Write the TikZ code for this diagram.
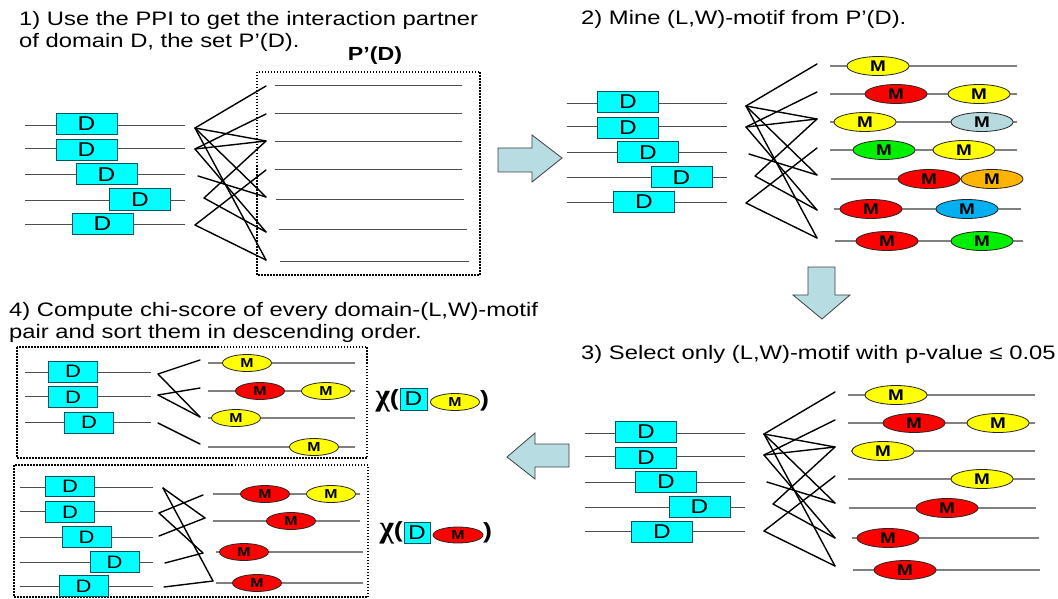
\documentclass[tikz,border=0pt]{standalone}
\usepackage{fontspec}
\setmainfont{Liberation Sans}[FakeStretch=1.22]
\newfontfamily\chifont{Liberation Serif}
\usetikzlibrary{shapes.geometric}
\definecolor{dedge}{RGB}{0,85,95}
\definecolor{dfill}{RGB}{0,255,255}
\definecolor{myellow}{RGB}{255,255,0}
\definecolor{mred}{RGB}{255,0,0}
\definecolor{mgreen}{RGB}{0,240,0}
\definecolor{morange}{RGB}{255,180,0}
\definecolor{mblue}{RGB}{0,176,240}
\definecolor{mpale}{RGB}{182,218,222}
\definecolor{arrowfill}{RGB}{183,221,226}
\tikzset{
  dbox/.style={draw=dedge, fill=dfill, line width=1pt, minimum width=61pt, minimum height=21pt, inner sep=0pt, font=\fontsize{20}{20}\selectfont},
  sbox/.style={minimum width=49pt, font=\fontsize{18}{18}\selectfont},
  motif/.style={ellipse, draw=black!85, line width=0.8pt, minimum width=62pt, minimum height=19pt, inner sep=0pt, font=\bfseries\fontsize{15.5}{15.5}\selectfont},
  smotif/.style={minimum width=49pt, minimum height=17pt, font=\bfseries\fontsize{13}{13}\selectfont},
  backbone/.style={black!70, line width=1pt},
  mline/.style={black!50, line width=1.3pt},
  link/.style={line width=1.4pt, line cap=round, line join=round},
  dotbox/.style={line width=1.5pt, dash pattern=on 1.5pt off 1.5pt},
  bigarrow/.style={fill=arrowfill, draw=black!75, line width=0.8pt},
  title/.style={anchor=base west, inner sep=0pt, font=\fontsize{19.5}{22}\selectfont},
  chi/.style={inner sep=0pt, font=\bfseries\fontsize{22}{22}\selectfont}
}
\begin{document}
\begin{tikzpicture}[x=1pt, y=-1pt]
  \useasboundingbox (0,0) rectangle (1058,599);
  \fill[white] (0,0) rectangle (1058,599);

  % titles
  \node[title] (t1a) at (19,26) {1) Use the PPI to get the interaction partner};
  \node[title] (t1b) at (19,48) {of domain D, the set P’(D).};
  \node[anchor=base, inner sep=0pt, font=\bfseries\fontsize{19}{19}\selectfont] (pd) at (375,61) {P’(D)};
  \node[title] (t2) at (581,25) {2) Mine (L,W)-motif from P’(D).};
  \node[title] (t3) at (581,359) {3) Select only (L,W)-motif with p-value ≤ 0.05};
  \node[title] (t4a) at (9,316) {4) Compute chi-score of every domain-(L,W)-motif};
  \node[title] (t4b) at (9,338) {pair and sort them in descending order.};

  % domain stacks and PPI links of steps 1-3
  \foreach \p/\dx/\dy/\cx/\cy in {1/0/0/0/0, 2/541.5/-22/551/-22, 3/559.5/307.5/569/306}{
    \begin{scope}[shift={(\dx,\dy)}]
      \foreach \y in {126,149,175,200,224} \draw[backbone] (25,\y) -- (185,\y);
      \node[dbox] (d\p-1) at (86.5,124) {D};
      \node[dbox] (d\p-2) at (86.5,150) {D};
      \node[dbox] (d\p-3) at (106.5,174.5) {D};
      \node[dbox] (d\p-4) at (140,199.5) {D};
      \node[dbox] (d\p-5) at (102.5,224) {D};
    \end{scope}
    \begin{scope}[shift={(\cx,\cy)}]
      \coordinate (a\p) at (195,128);
      \coordinate (b\p) at (195,149);
      \coordinate (c\p) at (198,176);
      \coordinate (e\p) at (204,198);
      \coordinate (f\p) at (195,225);
      \foreach \j/\y in {1/86,2/114,3/141,4/170,5/197,6/232,7/260}
        \coordinate (r\p-\j) at (266,\y);
    \end{scope}
    \foreach \u/\v in {a/1,a/3,a/5,a/7,b/2,b/3,b/6,c/5,e/3,e/6,f/4,f/7}
      \draw[link] (\u\p) -- (r\p-\v);
  }

  % step 1: partner set
  \draw[dotbox] (257,72) rectangle (480,275);
  \foreach \y/\xa/\xb in {86/275/462,114/275/462,142/275/462,170/275/462,199/276/464,229/279/467,261/280/469}
    \draw[backbone] (\xa,\y) -- (\xb,\y);

  % step 2: mined motifs
  \foreach \y/\xa/\xb in {66/830/1017,94/830/1017,122/830/1017,150/830/1017,179/831/1017,209/834/1021,241/835/1023}
    \draw[mline] (\xa,\y) -- (\xb,\y);
  \node[motif, fill=myellow] (m2-1a) at (878,66) {M};
  \node[motif, fill=mred] (m2-2a) at (896,94) {M};
  \node[motif, fill=myellow] (m2-2b) at (979,94) {M};
  \node[motif, fill=myellow] (m2-3a) at (865,122) {M};
  \node[motif, fill=mpale] (m2-3b) at (982,122) {M};
  \node[motif, fill=mgreen] (m2-4a) at (884,150) {M};
  \node[motif, fill=myellow] (m2-4b) at (964,150) {M};
  \node[motif, fill=mred] (m2-5a) at (929,179) {M};
  \node[motif, fill=morange] (m2-5b) at (992,179) {M};
  \node[motif, fill=mred] (m2-6a) at (871,209) {M};
  \node[motif, fill=mblue] (m2-6b) at (967,209) {M};
  \node[motif, fill=mred] (m2-7a) at (887,241) {M};
  \node[motif, fill=mgreen] (m2-7b) at (982,241) {M};

  % step 3: selected motifs
  \foreach \y/\xa/\xb in {395/848/1035,423/848/1035,451/851/1035,479/848/1035,508/849/1036,538/852/1039,570/853/1040}
    \draw[mline] (\xa,\y) -- (\xb,\y);
  \node[motif, fill=myellow] (m3-1a) at (896,395) {M};
  \node[motif, fill=mred] (m3-2a) at (914,423) {M};
  \node[motif, fill=myellow] (m3-2b) at (998,423) {M};
  \node[motif, fill=myellow] (m3-3a) at (883,451) {M};
  \node[motif, fill=myellow] (m3-4a) at (982,479) {M};
  \node[motif, fill=mred] (m3-5a) at (947,508) {M};
  \node[motif, fill=mred] (m3-6a) at (888,538) {M};
  \node[motif, fill=mred] (m3-7a) at (905,570) {M};

  % step 4: yellow motif pair
  \draw[dotbox] (17,347) rectangle (367,458);
  \foreach \y in {372,396,422} \draw[backbone] (25,\y) -- (151,\y);
  \node[dbox, sbox] (q1) at (73,371.5) {D};
  \node[dbox, sbox] (q2) at (73,397) {D};
  \node[dbox, sbox] (q3) at (89,422.5) {D};
  \coordinate (qa) at (158,374);
  \coordinate (qb) at (158,395);
  \coordinate (qc) at (158,423);
  \foreach \j/\y in {1/360,2/388,3/417,4/444} \coordinate (qr\j) at (200,\y);
  \foreach \u/\v in {a/1,a/3,b/2,b/3,c/4} \draw[link] (q\u) -- (qr\v);
  \foreach \y in {363,391,418,447} \draw[mline] (208,\y) -- (355,\y);
  \node[motif, smotif, fill=myellow] (qm1) at (247,363) {M};
  \node[motif, smotif, fill=mred] (qm2) at (260,391) {M};
  \node[motif, smotif, fill=myellow] (qm3) at (326,391) {M};
  \node[motif, smotif, fill=myellow] (qm4) at (236,418) {M};
  \node[motif, smotif, fill=myellow] (qm5) at (314,447) {M};

  % step 4: red motif pair
  \draw[dotbox] (14,465) rectangle (368,597);
  \foreach \y in {487,511,537,562,586} \draw[backbone] (20,\y) -- (153,\y);
  \node[dbox, sbox, minimum height=20.5pt] (s1) at (70,486.5) {D};
  \node[dbox, sbox, minimum height=20.5pt] (s2) at (70,512) {D};
  \node[dbox, sbox, minimum height=20.5pt] (s3) at (86.5,537) {D};
  \node[dbox, sbox, minimum height=20.5pt] (s4) at (114.5,562) {D};
  \node[dbox, sbox, minimum height=20.5pt] (s5) at (83.5,586) {D};
  \coordinate (sa) at (163,488);
  \coordinate (sb) at (159,513);
  \coordinate (sc) at (159,536);
  \coordinate (sd) at (165,563);
  \coordinate (se) at (164,587);
  \coordinate (sr1) at (203,495);
  \coordinate (sr2) at (205,518);
  \coordinate (sr3) at (203,553);
  \coordinate (sr4) at (213,581);
  \foreach \u/\v in {a/2,a/4,b/1,b/3,c/2,d/3,e/4} \draw[link] (s\u) -- (sr\v);
  \foreach \y/\xa/\xb in {494/213/360,521/213/360,552/216/363,583/216/363}
    \draw[mline] (\xa,\y) -- (\xb,\y);
  \node[motif, smotif, fill=mred] (sm1) at (265,494) {M};
  \node[motif, smotif, fill=myellow] (sm2) at (331,494) {M};
  \node[motif, smotif, fill=mred] (sm3) at (291,521) {M};
  \node[motif, smotif, fill=mred] (sm4) at (244,552) {M};
  \node[motif, smotif, fill=mred] (sm5) at (257,583) {M};

  % chi-scores
  \node[chi, anchor=east] (chi1) at (399,401) {{\chifont\fontsize{31}{31}\selectfont χ}(};
  \node[dbox, minimum width=27pt, minimum height=22pt] (cd1) at (413.5,399) {D};
  \node[motif, fill=myellow, minimum width=49pt, minimum height=17pt, font=\bfseries\fontsize{13}{13}\selectfont] (cm1) at (455,402) {M};
  \node[chi, anchor=west] (cp1) at (480,401) {)};
  \node[chi, anchor=east] (chi2) at (403,533) {{\chifont\fontsize{31}{31}\selectfont χ}(};
  \node[dbox, minimum width=26pt, minimum height=21pt] (cd2) at (417,532.5) {D};
  \node[motif, fill=mred, minimum width=50pt, minimum height=16pt, font=\bfseries\fontsize{13}{13}\selectfont] (cm2) at (458,535) {M};
  \node[chi, anchor=west] (cp2) at (483,533) {)};

  % block arrows between the steps
  \draw[bigarrow] (498,148) -- (532,148) -- (532,135) -- (562,158) -- (532,182) -- (532,172) -- (498,172) -- cycle;
  \draw[bigarrow] (808,267) -- (835,267) -- (835,295) -- (850,295) -- (822,319) -- (793,295) -- (808,295) -- cycle;
  \draw[bigarrow] (569,444) -- (535,444) -- (535,433) -- (507,457) -- (535,479) -- (535,467) -- (569,467) -- cycle;
\end{tikzpicture}
\end{document}
